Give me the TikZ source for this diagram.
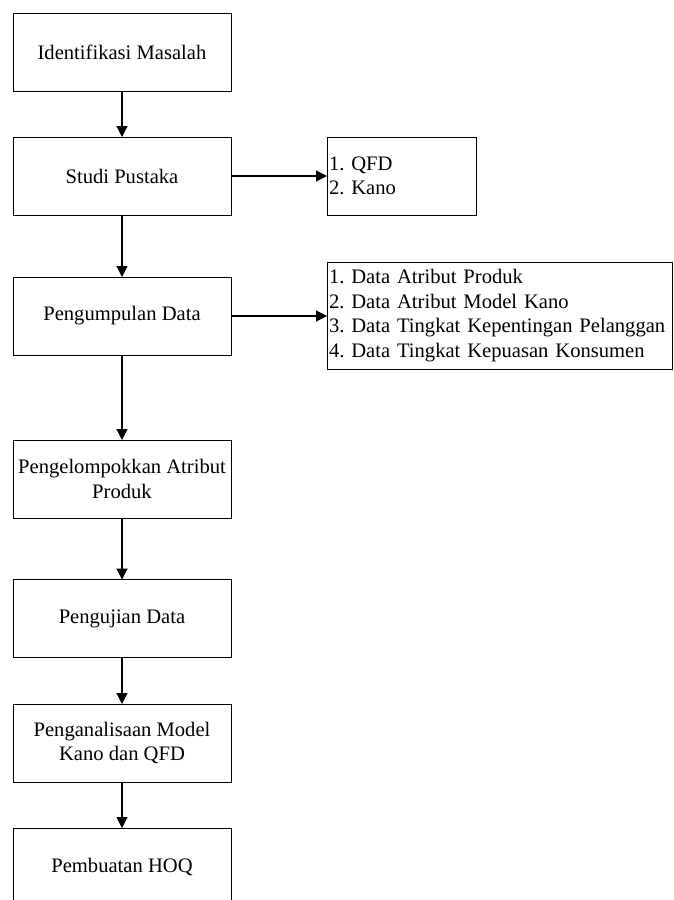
\documentclass[tikz,border=0pt]{standalone}
\usepackage{fontspec}
\setmainfont{Liberation Serif}
\usepackage{tikz}
\usetikzlibrary{arrows.meta,positioning}

\begin{document}
\frenchspacing
\begin{tikzpicture}[x=1pt,y=-1pt,
            font=\fontsize{20.6}{24.5}\selectfont,
            langkah/.style={draw,line width=1pt,minimum width=218pt,minimum height=78pt,inner sep=0pt,outer sep=0pt,align=center},
            daftar/.style={draw,line width=1pt,inner sep=2pt,outer sep=0pt,align=left},
            panah/.style={-{Triangle[width=11pt,length=11pt]},line width=1.2pt}]
            \clip (0,0) rectangle (673,900);
            \node[langkah] (ident) at (122,52) {Identifikasi Masalah};
            \node[langkah] (studi) at (122,176) {Studi Pustaka};
            \node[langkah] (kumpul) at (122,316) {Pengumpulan Data};
            \node[langkah] (kelompok) at (122,479) {Pengelompokkan Atribut\\Produk};
            \node[langkah] (uji) at (122,618.5) {Pengujian Data};
            \node[langkah] (analisa) at (122,743) {Penganalisaan Model\\Kano dan QFD};
            \node[langkah] (hoq) at (122,867) {Pembuatan HOQ};
            \node[daftar,minimum width=149pt,minimum height=78pt,text width=145pt] (teori) at (401.5,176) {1. QFD\\2. Kano};
            \node[daftar,minimum width=345pt,minimum height=107pt,text width=341pt] (datalist) at (499.5,315.5) {1. Data Atribut Produk\\2. Data Atribut Model Kano\\3. Data Tingkat Kepentingan Pelanggan\\4. Data Tingkat Kepuasan Konsumen};
            \draw[panah] (ident) -- (studi);
            \draw[panah] (studi) -- (kumpul);
            \draw[panah] (kumpul) -- (kelompok);
            \draw[panah] (kelompok) -- (uji);
            \draw[panah] (uji) -- (analisa);
            \draw[panah] (analisa) -- (hoq);
            \draw[panah] (studi) -- (teori);
            \draw[panah] (kumpul.east) -- (kumpul.east -| datalist.west);
        \end{tikzpicture}
\end{document}
